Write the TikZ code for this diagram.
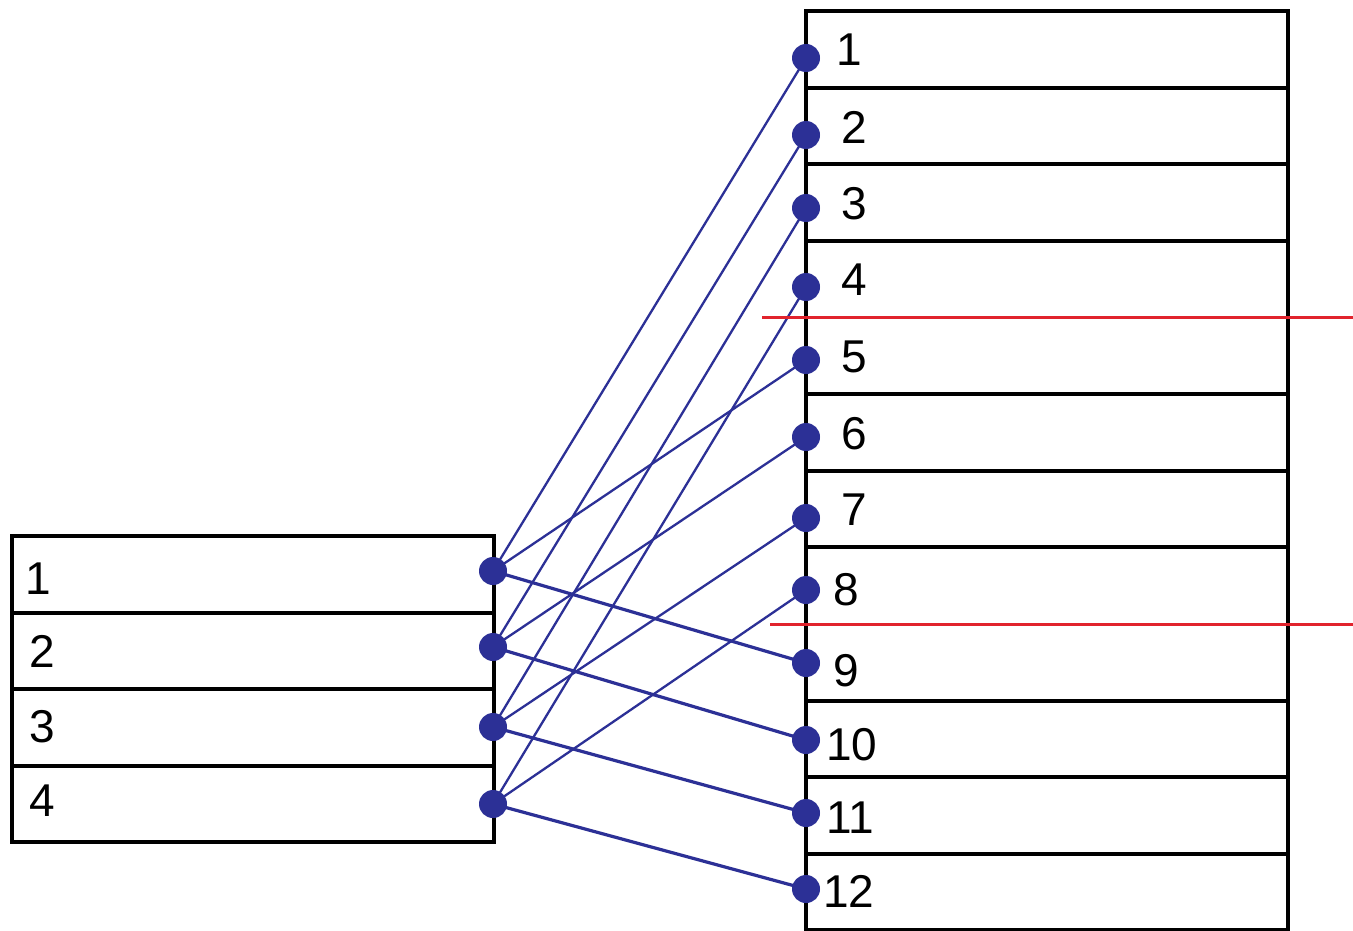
\documentclass[tikz,border=0pt]{standalone}
\usepackage{fontspec}
\setmainfont{Liberation Sans}
\begin{document}
\begin{tikzpicture}[x=1pt,y=-1pt,
  frame/.style={draw=black,line width=3.5pt},
  rowline/.style={draw=black,line width=3.5pt},
  marker/.style={draw=markred,line width=3pt},
  pin/.style={circle,fill=linkblue,inner sep=0pt,minimum size=28pt},
  link/.style={draw=linkblue,line width=2.3pt},
  lowlink/.style={draw=linkblue,line width=3.2pt},
  num/.style={anchor=west,inner sep=0pt,font=\fontsize{46}{46}\selectfont}]
\definecolor{linkblue}{RGB}{44,48,150}
\definecolor{markred}{RGB}{225,35,45}
\useasboundingbox[fill=white] (0,0) rectangle (1353,931);

% left table: four rows
\draw[frame] (12,536) rectangle (494,842);
\foreach \y in {613,689,766} \draw[rowline] (12,\y) -- (494,\y);

% right table: twelve rows
\draw[frame] (806,11) rectangle (1288,930);
\foreach \y in {88,164,241,394,471,547,701,777,854} \draw[rowline] (806,\y) -- (1288,\y);

% row labels, left
\node[num] (lt1) at (25,579) {1};
\node[num] (lt2) at (29,651) {2};
\node[num] (lt3) at (29,727) {3};
\node[num] (lt4) at (29,801) {4};

% row labels, right
\node[num] (rt1) at (836,50) {1};
\node[num] (rt2) at (841,127) {2};
\node[num] (rt3) at (841,204) {3};
\node[num] (rt4) at (841,280) {4};
\node[num] (rt5) at (841,357) {5};
\node[num] (rt6) at (841,434) {6};
\node[num] (rt7) at (841,510) {7};
\node[num] (rt8) at (833,590) {8};
\node[num] (rt9) at (833,671) {9};
\node[num] (rt10) at (826,745) {10};
\node[num] (rt11) at (826,818) {11};
\node[num] (rt12) at (823,891) {12};

% connection points
\coordinate (L1) at (493,571);
\coordinate (L2) at (493,647);
\coordinate (L3) at (493,727);
\coordinate (L4) at (493,804);
\foreach \i/\y in {1/58,2/135,3/208,4/287,5/360,6/437,7/518,8/590,9/663,10/740,11/813,12/889}
  \coordinate (R\i) at (806,\y);

% links: row i on the left goes to rows i, i+4 and i+8 on the right
\foreach \i in {1,2,3,4} {
  \pgfmathtruncatemacro{\a}{\i+4}
  \draw[link] (L\i) -- (R\i);
  \draw[link] (L\i) -- (R\a);
}
\foreach \i in {1,2,3,4} {
  \pgfmathtruncatemacro{\b}{\i+8}
  \draw[lowlink] (L\i) -- (R\b);
}

% separator markers
\coordinate (m1a) at (762,317.5);
\coordinate (m1b) at (1353,317.5);
\coordinate (m2a) at (770,624);
\coordinate (m2b) at (1353,624);
\draw[marker] (m1a) -- (m1b);
\draw[marker] (m2a) -- (m2b);

% dots
\foreach \i in {1,2,3,4} \node[pin] (dl\i) at (L\i) {};
\foreach \i in {1,...,12} \node[pin] (dr\i) at (R\i) {};
\end{tikzpicture}
\end{document}
